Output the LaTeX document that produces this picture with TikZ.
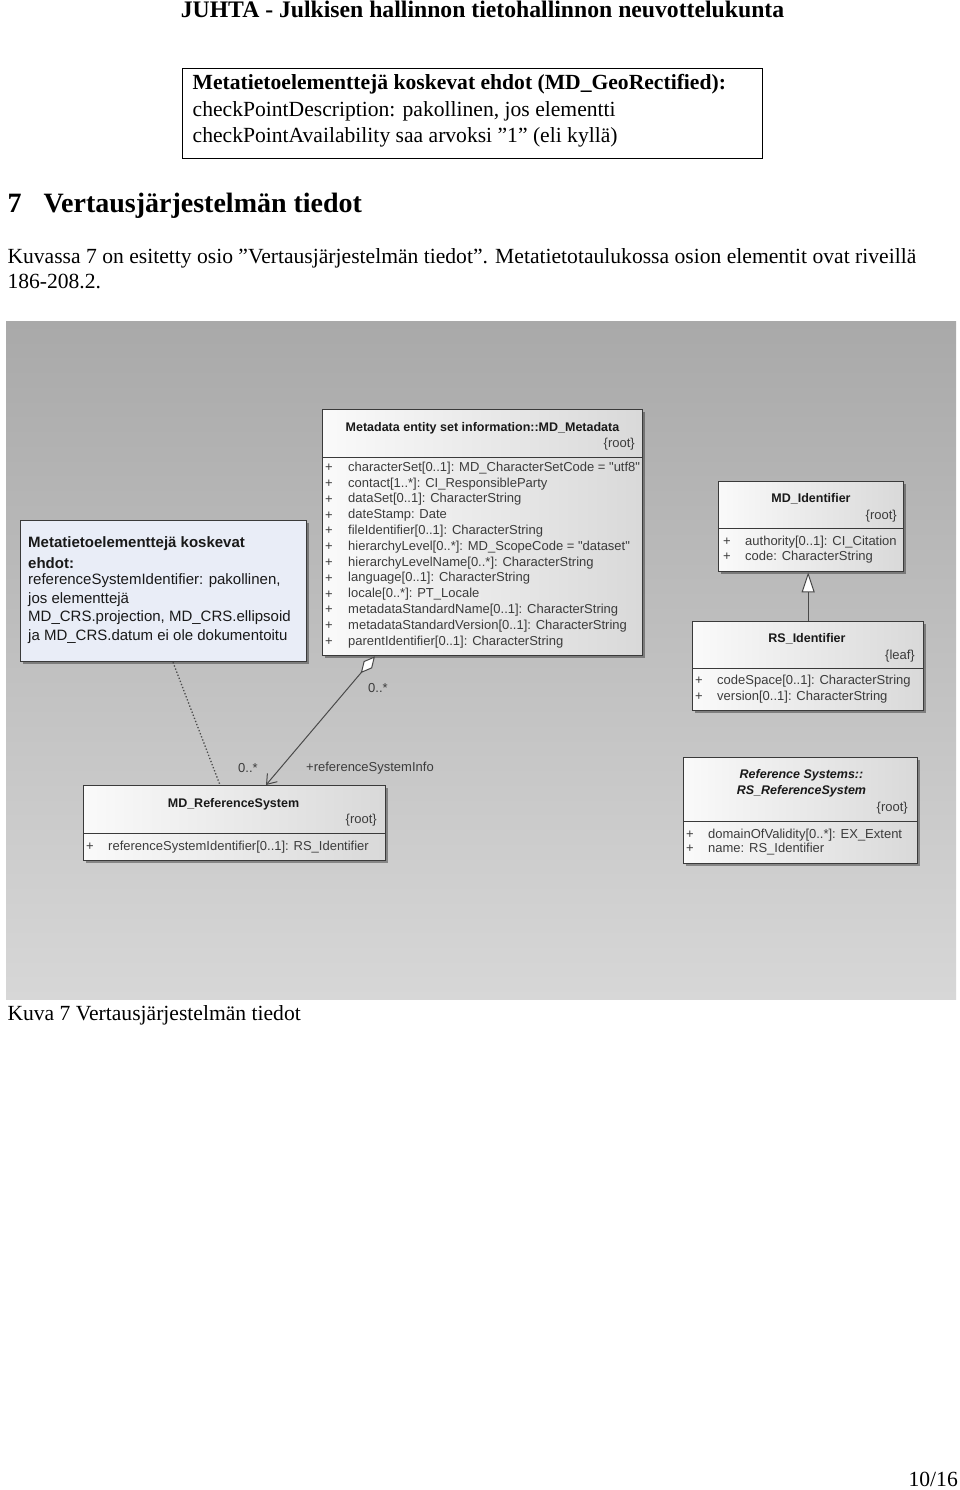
\documentclass[tikz,border=0pt]{standalone}
\usepackage{fontspec}
\setmainfont{Liberation Serif}
\newfontfamily\umlsans{Liberation Sans}
\usetikzlibrary{shadows,arrows.meta}
\definecolor{bgtop}{HTML}{A9A9A9}
\definecolor{bgbot}{HTML}{D7D7D7}
\definecolor{umlborder}{HTML}{3A3A3A}
\definecolor{umltext}{HTML}{3C3C3C}
\definecolor{notefill}{HTML}{E9EDF7}
\definecolor{linkcol}{HTML}{4A4A4A}
\newcommand\bodyfont{\fontsize{21.6pt}{26pt}\selectfont}
\newcommand\umltitlefont{\umlsans\bfseries\fontsize{12.5pt}{15pt}\selectfont}
\newcommand\umlattrfont{\umlsans\fontsize{13pt}{15pt}\selectfont}
\newcommand\notefont{\umlsans\fontsize{15pt}{18pt}\selectfont}
\begin{document}
\begin{tikzpicture}[x=1pt,y=-1pt,
  serif/.style={inner sep=0pt, anchor=base west, font=\bodyfont},
  umlclass/.style={draw=umlborder, line width=1.3pt, left color=white!96!gray,
    right color=gray!30, anchor=north west, inner sep=0pt,
    drop shadow={shadow xshift=2.5pt, shadow yshift=-2.5pt, opacity=0.35, fill=black}},
  sep/.style={draw=umlborder, line width=1pt},
  ctitle/.style={inner sep=0pt, anchor=center, font=\umltitlefont, text=black!90},
  cprop/.style={inner sep=0pt, anchor=east, font=\umlattrfont, text=umltext},
  attr/.style={inner sep=0pt, anchor=west, font=\umlattrfont, text=umltext},
  plus/.style={inner sep=0pt, anchor=center, font=\umlattrfont, text=umltext},
  notebox/.style={draw=umlborder, line width=1.3pt, fill=notefill, anchor=north west,
    inner sep=0pt, drop shadow={shadow xshift=2.5pt, shadow yshift=-2.5pt, opacity=0.35, fill=black}},
  notetext/.style={inner sep=0pt, anchor=west, font=\notefont, text=black!90},
  link/.style={draw=linkcol, line width=1pt},
  lbl/.style={inner sep=0pt, anchor=west, font=\umlattrfont, text=umltext}
]
\useasboundingbox (0,0) rectangle (960,1490);
\fill[white] (0,0) rectangle (960,1490);

% page header
\node[inner sep=0pt, anchor=base, font=\bfseries\fontsize{23.7pt}{28pt}\selectfont] (hdr) at (482.5,17.5)
  {JUHTA - Julkisen hallinnon tietohallinnon neuvottelukunta};

% condition box
\node[draw, line width=1pt, minimum width=580pt, minimum height=90pt, anchor=north west, inner sep=0pt] (gbox) at (182,68) {};
\node[serif, font=\bodyfont\bfseries] (g1) at (192.5,89.3) {Metatietoelementtejä koskevat ehdot (MD\_GeoRectified):};
\node[serif] (g2) at (192.5,116.7) {checkPointDescription: pakollinen, jos elementti};
\node[serif] (g3) at (192.5,142.7) {checkPointAvailability saa arvoksi ”1” (eli kyllä)};

% section heading
\node[serif, font=\bfseries\fontsize{28pt}{32pt}\selectfont] (hnum) at (7.3,212.7) {7};
\node[serif, font=\bfseries\fontsize{28pt}{32pt}\selectfont] (htxt) at (43.3,212.7) {Vertausjärjestelmän tiedot};

% paragraph
\node[serif] (p1) at (7.3,263.3) {Kuvassa 7 on esitetty osio ”Vertausjärjestelmän tiedot”. Metatietotaulukossa osion elementit ovat riveillä};
\node[serif] (p2) at (7.3,288.3) {186-208.2.};

% diagram background
\shade[top color=bgtop, bottom color=bgbot] (6,321) rectangle (956,999);

% caption and page number
\node[serif] (cap) at (7.3,1020.7) {Kuva 7 Vertausjärjestelmän tiedot};
\node[inner sep=0pt, anchor=base east, font=\bodyfont] (pgno) at (958,1486.7) {10/16};

% ---- MD_Metadata
\node[umlclass, minimum width=320pt, minimum height=246pt] (meta) at (322,409) {};
\draw[sep] (322,457) -- (642,457);
\node[ctitle] (metaT) at (482.5,428) {Metadata entity set information::MD\_Metadata};
\node[cprop] (metaR) at (635,444) {\{root\}};
\foreach \t [count=\i from 0] in {
  characterSet[0..1]: MD\_CharacterSetCode = "utf8",
  contact[1..*]: CI\_ResponsibleParty,
  dataSet[0..1]: CharacterString,
  dateStamp: Date,
  fileIdentifier[0..1]: CharacterString,
  hierarchyLevel[0..*]: MD\_ScopeCode = "dataset",
  hierarchyLevelName[0..*]: CharacterString,
  language[0..1]: CharacterString,
  locale[0..*]: PT\_Locale,
  metadataStandardName[0..1]: CharacterString,
  metadataStandardVersion[0..1]: CharacterString,
  parentIdentifier[0..1]: CharacterString}{
  \node[plus] (metaP\i) at (329,468+15.8*\i) {+};
  \node[attr] (metaA\i) at (348,468+15.8*\i) {\t};
}

% ---- MD_Identifier
\node[umlclass, minimum width=185pt, minimum height=90pt] (mdid) at (718,481) {};
\draw[sep] (718,528) -- (903,528);
\node[ctitle] (mdidT) at (811,499) {MD\_Identifier};
\node[cprop] (mdidR) at (897,516) {\{root\}};
\node[plus] (mdidP0) at (727,542) {+};
\node[attr] (mdidA0) at (745,542) {authority[0..1]: CI\_Citation};
\node[plus] (mdidP1) at (727,557) {+};
\node[attr] (mdidA1) at (745,557) {code: CharacterString};

% ---- RS_Identifier
\node[umlclass, minimum width=231pt, minimum height=89pt] (rsid) at (692,621) {};
\draw[sep] (692,668) -- (923,668);
\node[ctitle] (rsidT) at (807,639) {RS\_Identifier};
\node[cprop] (rsidR) at (915,656) {\{leaf\}};
\node[plus] (rsidP0) at (699,681) {+};
\node[attr] (rsidA0) at (717,681) {codeSpace[0..1]: CharacterString};
\node[plus] (rsidP1) at (699,697) {+};
\node[attr] (rsidA1) at (717,697) {version[0..1]: CharacterString};

% ---- Reference Systems::RS_ReferenceSystem
\node[umlclass, minimum width=234pt, minimum height=106pt] (rsrs) at (683,757) {};
\draw[sep] (683,821) -- (917,821);
\node[ctitle, font=\umltitlefont\itshape] (rsrsT1) at (801.5,775) {Reference Systems::};
\node[ctitle, font=\umltitlefont\itshape] (rsrsT2) at (801.5,791) {RS\_ReferenceSystem};
\node[cprop] (rsrsR) at (908,808) {\{root\}};
\node[plus] (rsrsP0) at (690,835) {+};
\node[attr] (rsrsA0) at (708,835) {domainOfValidity[0..*]: EX\_Extent};
\node[plus] (rsrsP1) at (690,849) {+};
\node[attr] (rsrsA1) at (708,849) {name: RS\_Identifier};

% ---- MD_ReferenceSystem
\node[umlclass, minimum width=302pt, minimum height=75pt] (refsys) at (83,785) {};
\draw[sep] (83,833) -- (385,833);
\node[ctitle] (refsysT) at (233.5,804) {MD\_ReferenceSystem};
\node[cprop] (refsysR) at (377,820) {\{root\}};
\node[plus] (refsysP0) at (90,847) {+};
\node[attr] (refsysA0) at (108,847) {referenceSystemIdentifier[0..1]: RS\_Identifier};

% ---- note
\node[notebox, minimum width=286pt, minimum height=141pt] (note) at (20,520) {};
\node[notetext, font=\notefont\bfseries] (n1) at (28,544) {Metatietoelementtejä koskevat};
\node[notetext, font=\notefont\bfseries] (n2) at (28,563) {ehdot:};
\node[notetext] (n3) at (28,581) {referenceSystemIdentifier: pakollinen,};
\node[notetext] (n4) at (28,600) {jos elementtejä};
\node[notetext] (n5) at (28,618) {MD\_CRS.projection, MD\_CRS.ellipsoid};
\node[notetext] (n6) at (28,637) {ja MD\_CRS.datum ei ole dokumentoitu};

% ---- connectors
\draw[link, -{Triangle[fill=white, length=20pt, width=13pt]}] (rsid.north) -- (rsid.north |- mdid.south);
\draw[link, {Diamond[fill=white, length=22pt, width=11pt]}-{Straight Barb[length=9pt, width=13pt]}]
  ([xshift=53pt]meta.south west) -- ([xshift=183pt]refsys.north west);
\draw[link, line width=1.3pt, dotted] ([xshift=153pt]note.south west) -- ([xshift=137pt]refsys.north west);

\node[lbl] (m1) at (368,688) {0..*};
\node[lbl] (m2) at (238,768) {0..*};
\node[lbl] (role) at (306,768) {+referenceSystemInfo};
\end{tikzpicture}
\end{document}
